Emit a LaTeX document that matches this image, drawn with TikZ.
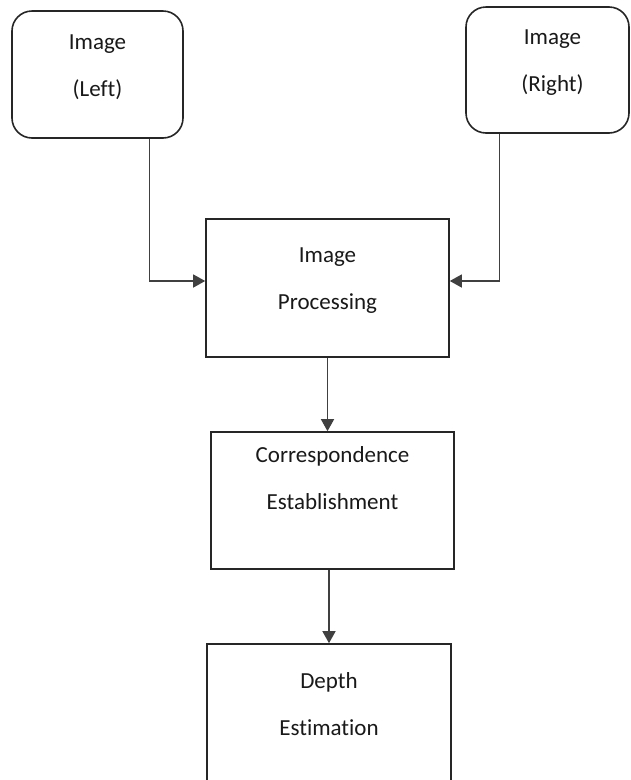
\documentclass[tikz,border=0pt]{standalone}
\usepackage{fontspec}
\setmainfont{Carlito}[Ligatures=NoCommon]
\usetikzlibrary{arrows.meta}

\tikzset{
  box/.style={draw=black!85, line width=1.6pt, minimum width=243pt, minimum height=138pt, inner sep=0pt},
  rbox/.style={box, rounded corners=20pt},
  txt/.style={anchor=north, inner sep=0pt, align=center, font=\fontsize{23}{47}\selectfont, text=black!90},
  conn/.style={draw=black!75, line width=1.3pt, -{Triangle[length=12pt,width=13pt]}}
}

\begin{document}
\begin{tikzpicture}[x=1pt,y=-1pt]
		\clip (0,0) rectangle (631,780);
		\fill[white] (0,0) rectangle (631,780);

		\node[rbox, minimum width=171pt, minimum height=127pt] (L) at (97.5,74.5) {};
		\node[rbox, minimum width=163pt, minimum height=126pt] (R) at (547.5,70) {};
		\node[box] (P) at (327.5,288) {};
		\node[box, minimum height=137pt] (C) at (332.5,500.5) {};
		\node[box, minimum width=244pt, minimum height=156pt] (D) at (329,722) {};

		\node[txt] (Lt) at ([yshift=-24pt]L.north) {Image\\(Left)};
		\node[txt] (Rt) at ([xshift=5pt,yshift=-23pt]R.north) {Image\\(Right)};
		\node[txt] (Pt) at ([yshift=-29pt]P.north) {Image\\Processing};
		\node[txt] (Ct) at ([yshift=-15pt]C.north) {Correspondence\\Establishment};
		\node[txt] (Dt) at ([yshift=-29pt]D.north) {Depth\\Estimat\kern0pt ion};

		\draw[conn] ([xshift=-34pt]L.south east) |- ([yshift=7pt]P.west);
		\draw[conn] ([xshift=34pt]R.south west) |- ([yshift=7pt]P.east);
		\draw[conn] (P.south) -- (P.south |- C.north);
		\draw[conn] (D.north |- C.south) -- (D.north);
	\end{tikzpicture}
\end{document}
